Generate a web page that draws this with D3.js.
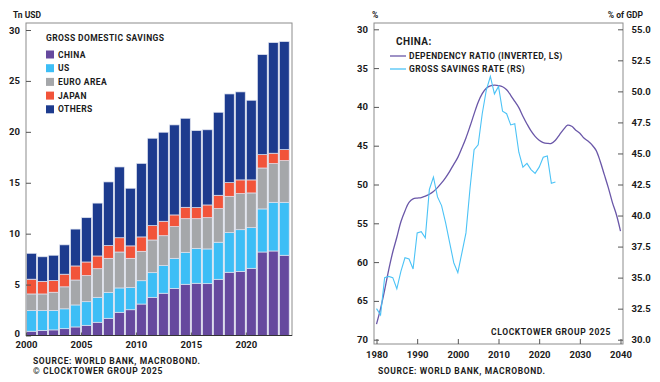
<!DOCTYPE html>
<html>
<head>
<meta charset="utf-8">
<title>Gross domestic savings / China dependency ratio</title>
<style>
  body { margin: 0; background: #fff; }
  svg text { font-family: Roboto, "DejaVu Sans", sans-serif; font-weight: 700; fill: #1b1b1b; }
  .frame { fill: none; stroke: #8c8c8c; stroke-width: 1; }
  .tick line { stroke: #555; }
  .lab { font-size: 8.5px; letter-spacing: 0.4px; }
  .note { font-size: 8.5px; letter-spacing: 0.6px; }
</style>
<script src="https://cdn.jsdelivr.net/npm/d3@7"></script>
</head>
<body>
<script>
// ---- left panel: gross domestic savings, Tn USD ----
var years = d3.range(2000, 2024);
var china  = [0.42,0.49,0.55,0.67,0.84,1.00,1.30,1.69,2.28,2.53,3.09,3.75,4.15,4.63,5.03,5.13,5.09,5.52,6.21,6.30,6.60,8.20,8.30,7.88];
var us     = [2.03,1.95,1.92,1.95,2.16,2.32,2.45,2.55,2.39,2.17,2.29,2.42,2.71,2.95,3.14,3.43,3.41,3.64,3.89,4.09,3.99,4.23,4.78,5.20];
var euro   = [1.63,1.64,1.78,2.16,2.45,2.56,2.81,3.34,3.53,2.88,2.89,3.21,2.94,3.11,3.30,2.91,3.07,3.30,3.57,3.54,3.41,4.02,3.80,4.09];
var japan  = [1.45,1.24,1.15,1.24,1.38,1.34,1.25,1.25,1.40,1.22,1.41,1.41,1.42,1.15,1.12,1.09,1.25,1.31,1.34,1.35,1.28,1.31,1.02,1.08];
var others = [2.54,2.41,2.48,2.88,3.62,4.35,5.19,6.25,6.95,5.66,7.22,8.58,8.74,8.84,8.74,7.56,7.38,8.15,8.71,8.64,7.82,9.82,10.86,10.61];
var seriesNames  = ["CHINA", "US", "EURO AREA", "JAPAN", "OTHERS"];
var seriesColors = ["#66499e", "#3dbef6", "#a5a7aa", "#f2543a", "#1d3b8e"];
var savingsTicks = [0, 5, 10, 15, 20, 25, 30];
var barYearTicks = [2000, 2005, 2010, 2015, 2020];

// ---- right panel: China ----
var rateYears = d3.range(1980, 2025);
var savingsRate = [32.5,32.0,35.0,35.1,35.0,34.1,35.5,36.6,36.5,35.7,38.6,38.7,38.2,42.1,43.1,41.5,40.8,39.4,37.8,36.2,
                   35.4,37.0,38.6,42.2,45.3,45.7,48.2,50.1,51.2,49.8,50.4,48.4,48.2,47.3,47.4,45.1,43.9,44.2,43.7,43.4,
                   43.9,44.7,44.8,42.6,42.7];
var depYears = d3.range(1980, 2041);
var dependency = [68.0,66.0,63.6,61.0,58.7,56.8,54.8,53.4,52.3,51.85,51.75,51.7,51.5,51.25,50.9,50.4,49.8,49.1,48.3,47.4,
                  46.5,45.3,44.0,42.5,40.9,39.4,38.3,37.6,37.3,37.2,37.25,37.4,37.8,38.5,39.3,40.1,41.2,42.2,43.1,43.8,
                  44.3,44.6,44.7,44.7,44.3,43.6,42.9,42.35,42.5,43.0,43.4,44.0,44.4,44.9,45.6,47.0,48.7,50.4,52.3,53.9,56.0];
var depTicks = [30, 35, 40, 45, 50, 55, 60, 65, 70];
var rateTicks = [30, 32.5, 35, 37.5, 40, 42.5, 45, 47.5, 50, 52.5, 55];
var decadeTicks = [1980, 1990, 2000, 2010, 2020, 2030, 2040];

var svg = d3.select("body").append("svg")
    .attr("width", 660)
    .attr("height", 382);

// ================= left panel =================
var x = d3.scaleLinear().domain([2000, 2024.2]).range([26, 292]);
var y = d3.scaleLinear().domain([0, 30]).range([335.5, 30]);

var rows = years.map(function(yr, i) {
  return { year: yr, "CHINA": china[i], "US": us[i], "EURO AREA": euro[i], "JAPAN": japan[i], "OTHERS": others[i] };
});
var stacked = d3.stack().keys(seriesNames)(rows);

svg.append("g").selectAll("g")
    .data(stacked)
  .enter().append("g")
    .attr("fill", function(d, i) { return seriesColors[i]; })
  .selectAll("rect")
    .data(function(d) { return d; })
  .enter().append("rect")
    .attr("x", function(d) { return x(d.data.year) + 0.6; })
    .attr("width", function(d) { return x(d.data.year + 1) - x(d.data.year) - 1.2; })
    .attr("y", function(d) { return y(d[1]); })
    .attr("height", function(d) { return y(d[0]) - y(d[1]); })
    .attr("stroke", "#dfe3f0")
    .attr("stroke-width", 0.7);

svg.append("rect").attr("class", "frame")
    .attr("x", 26).attr("y", 23).attr("width", 266).attr("height", y(0) - 23);

var yAxisL = svg.append("g")
    .attr("transform", "translate(26,0)")
    .call(d3.axisLeft(y).tickValues(savingsTicks).tickSize(-5).tickPadding(6));
yAxisL.select(".domain").remove();
yAxisL.selectAll("text").style("font-size", "9.5px");
yAxisL.selectAll(".tick line").attr("stroke", "#8c8c8c");
// lift the zero label a touch so it clears the year labels
yAxisL.selectAll(".tick text").filter(function(d) { return d === 0; }).attr("dy", "0.1em");

var xAxisL = svg.append("g")
    .attr("transform", "translate(0," + y(0) + ")")
    .call(d3.axisBottom(x).tickValues(barYearTicks).tickFormat(d3.format("d")).tickSize(-3).tickPadding(5.5));
xAxisL.select(".domain").attr("stroke", "#333").attr("d", "M26,0H292");
xAxisL.selectAll("text").style("font-size", "9.5px");

svg.append("text").attr("x", 13).attr("y", 18).style("font-size", "8.5px").text("Tn USD");

// legend
svg.append("text").attr("class", "lab").attr("x", 46).attr("y", 41).text("GROSS DOMESTIC SAVINGS");
var legL = svg.append("g").selectAll("g")
    .data(seriesNames)
  .enter().append("g")
    .attr("transform", function(d, i) { return "translate(46," + (54.5 + i * 13.7) + ")"; });
legL.append("rect")
    .attr("x", 0).attr("y", -4).attr("width", 8).attr("height", 8)
    .attr("fill", function(d, i) { return seriesColors[i]; });
legL.append("text")
    .attr("class", "lab")
    .attr("x", 12).attr("y", 3)
    .text(function(d) { return d; });

svg.append("text").attr("class", "note").attr("x", 33).attr("y", 363.6).text("SOURCE: WORLD BANK, MACROBOND.");
svg.append("text").attr("class", "note").attr("x", 33).attr("y", 373.6).text("\u00A9 CLOCKTOWER GROUP 2025");

// ================= right panel =================
var xr = d3.scaleLinear().domain([1980, 2040]).range([376.5, 620.5]);
var yl = d3.scaleLinear().domain([30, 70]).range([29.3, 339.7]);
var yr = d3.scaleLinear().domain([30, 55]).range([339.7, 29.3]);

svg.append("rect").attr("class", "frame")
    .attr("x", 374).attr("y", 23).attr("width", 249).attr("height", 321);

var ax1 = svg.append("g")
    .attr("transform", "translate(374,0)")
    .call(d3.axisLeft(yl).tickValues(depTicks).tickSize(-5).tickPadding(6));
var ax2 = svg.append("g")
    .attr("transform", "translate(623,0)")
    .call(d3.axisRight(yr).tickValues(rateTicks).tickFormat(d3.format(".1f")).tickSize(-5).tickPadding(8.5));
var ax3 = svg.append("g")
    .attr("transform", "translate(0,344)")
    .call(d3.axisBottom(xr).tickValues(decadeTicks).tickFormat(d3.format("d")).tickSize(-5).tickPadding(7.5));
[ax1, ax2, ax3].forEach(function(a) {
  a.select(".domain").remove();
  a.selectAll("text").style("font-size", "9.5px");
  a.selectAll(".tick line").attr("stroke", "#8c8c8c");
});

var depLine = d3.line()
    .x(function(d, i) { return xr(depYears[i]); })
    .y(function(d) { return yl(d); })
    .curve(d3.curveCatmullRom);
var rateLine = d3.line()
    .x(function(d, i) { return xr(rateYears[i]); })
    .y(function(d) { return yr(d); });

svg.append("path").datum(dependency)
    .attr("d", depLine).attr("fill", "none")
    .attr("stroke", "#6a57a8").attr("stroke-width", 1.3);
svg.append("path").datum(savingsRate)
    .attr("d", rateLine).attr("fill", "none")
    .attr("stroke", "#4cc3f6").attr("stroke-width", 1.1);

svg.append("text").attr("x", 372).attr("y", 18).style("font-size", "8.5px").text("%");
svg.append("text").attr("x", 643).attr("y", 18).attr("text-anchor", "end").style("font-size", "8.5px").text("% of GDP");

svg.append("text").attr("x", 396).attr("y", 45).style("font-size", "10px").style("letter-spacing", "0.4px").text("CHINA:");
var legR = [["DEPENDENCY RATIO (INVERTED, LS)", "#6a57a8"], ["GROSS SAVINGS RATE (RS)", "#4cc3f6"]];
legR.forEach(function(d, i) {
  var cy = 56 + i * 13;
  svg.append("line").attr("x1", 390).attr("x2", 406).attr("y1", cy).attr("y2", cy)
      .attr("stroke", d[1]).attr("stroke-width", 1.3);
  svg.append("text").attr("class", "lab").attr("x", 409).attr("y", cy + 3).text(d[0]);
});

svg.append("text").attr("class", "note").attr("x", 611).attr("y", 334.6).attr("text-anchor", "end").text("CLOCKTOWER GROUP 2025");
svg.append("text").attr("class", "note").attr("x", 378).attr("y", 373.6).text("SOURCE: WORLD BANK, MACROBOND.");
</script>
</body>
</html>
